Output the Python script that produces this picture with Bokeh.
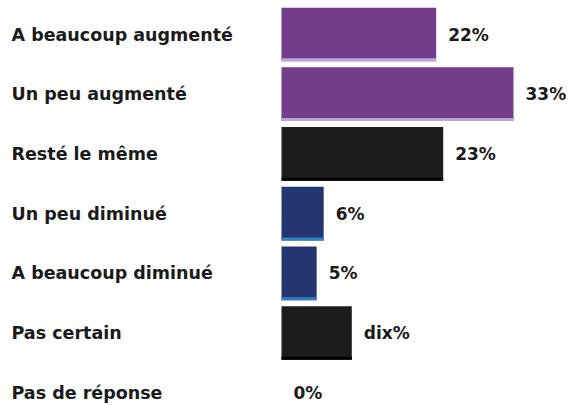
from bokeh.plotting import figure
from bokeh.models import ColumnDataSource, Range1d
from bokeh.core.properties import value
from bokeh.embed import file_html
from bokeh.resources import INLINE

categories = ["A beaucoup augmenté", "Un peu augmenté", "Resté le même", "Un peu diminué",
              "A beaucoup diminué", "Pas certain", "Pas de réponse"]
values = [22, 33, 23, 6, 5, 10, 0]
value_labels = ["22%", "33%", "23%", "6%", "5%", "dix%", "0%"]
fill_colors = ["#743d8c", "#743d8c", "#1c1c1c", "#243670", "#243670", "#1c1c1c", "#1c1c1c"]
edge_colors = ["#b9a6d6", "#b9a6d6", "#000000", "#2f80c8", "#2f80c8", "#000000", "#000000"]

W, H = 568, 405
px_per = 7.03
x0 = 281
pitch = 59.7
top = 34
xs, xe = -x0 / px_per, (W - x0) / px_per
ys, ye = (H - top) / pitch, -top / pitch

idx = list(range(len(categories)))
bar_h = 0.9
strip_h = 3 / pitch
src = ColumnDataSource(dict(
    y=idx,
    ys=[i + bar_h / 2 - strip_h / 2 for i in idx],
    v=values,
    cat=categories,
    lab=value_labels,
    fc=fill_colors,
    ec=edge_colors,
))

p = figure(width=W, height=H, x_range=Range1d(xs, xe), y_range=Range1d(ys, ye),
           output_backend="svg", toolbar_location=None, min_border=0)
p.xaxis.visible = False
p.yaxis.visible = False
p.grid.visible = False
p.outline_line_color = None
p.background_fill_color = "white"
p.border_fill_color = "white"

p.hbar(y="y", left=0, right="v", height=bar_h, fill_color="fc", line_color=None, source=src)
p.hbar(y="ys", left=0, right="v", height=strip_h, fill_color="ec", line_color=None, source=src)

p.text(x=xs, y="y", text="cat", source=src, x_offset=11, text_align="left", text_baseline="middle",
       text_font=value("DejaVu Sans"), text_font_style="bold", text_font_size="17.5px", text_color="#1a1a1a")
p.text(x="v", y="y", text="lab", source=src, x_offset=12, text_align="left", text_baseline="middle",
       text_font=value("DejaVu Sans"), text_font_style="bold", text_font_size="17px", text_color="#1a1a1a")

open("out.html", "w").write(file_html(p, INLINE))
